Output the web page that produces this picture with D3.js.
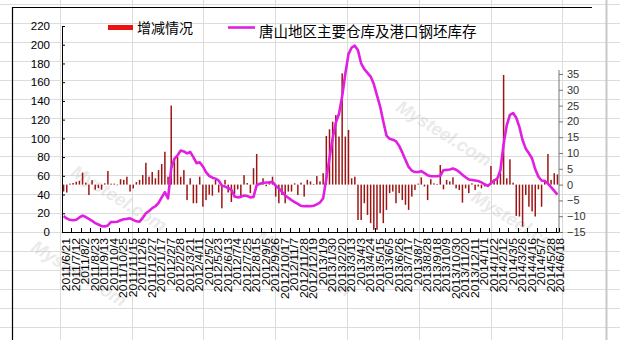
<!DOCTYPE html>
<html>
<head>
<meta charset="utf-8">
<script src="https://cdn.jsdelivr.net/npm/d3@7"></script>
<style>
  body { margin: 0; background: #fff; }
  svg { display: block; }
</style>
</head>
<body>
<div id="chart"></div>
<script>
// Tangshan billet stock (left axis) and weekly change (right axis)

const WIDTH = 620;
const HEIGHT = 340;
const PLOT = { LEFT: 62, RIGHT: 559, TOP: 26, BOTTOM: 232 };
const FONT = '"Liberation Sans", Arial, sans-serif';
const CJK = '"Noto Sans CJK SC", sans-serif';

// weekly stock, 2011/6/21 .. 2014/6/18
const stock = [
  17, 14.5, 13, 12.5, 13, 15.5, 17.5, 16, 14, 12,
  9.5, 8, 6.2, 6, 7, 10.7, 10.7, 11, 12.5, 13.6,
  14, 14.6, 13, 11.4, 11, 15, 20, 22.5, 25.5, 27.5,
  31, 37, 42.5, 36, 68, 78, 82, 87, 86, 84,
  85.5, 80, 73.5, 74.5, 70, 64, 60, 58, 57, 55,
  49.5, 48.5, 47, 45, 38, 37, 37.5, 39, 38.5, 37,
  37.5, 50, 51.5, 52.4, 52.8, 53, 53.5, 49.5, 46.5, 43,
  39, 36.5, 34, 32, 30, 28, 27.5, 27.8, 27.5, 28,
  29.5, 31.5, 36, 57, 79, 100, 117, 126, 145, 169,
  190, 197, 199, 194, 180, 174, 170, 166, 158, 146,
  134, 118, 103, 99.5, 98.5, 97, 92, 85, 77, 69.5,
  65.5, 64, 64, 65, 63, 60.5, 59.6, 59.6, 59.6, 60,
  66, 66.3, 66.7, 67.8, 66.5, 64, 61, 58.5, 56, 55.5,
  55, 54.5, 53, 51, 49.2, 52, 55, 57, 66, 94,
  114, 125, 127, 122, 112, 98, 89, 84, 78.5, 67,
  59, 55, 54.5, 51.7, 48, 44, 40
];

// weekly change (增减情况)
const change = [
  -2.2, -2.5, 0.3, 0.5, 0.9, 1.2, 3.8, 0.6, -3.3, 1.4,
  -1.6, -1.1, -1.6, 0.4, 4.3, 0.3, 0.3, -0.2, 1.7, 1.5,
  2.5, -2.2, -1.2, 0.8, 1.5, 3, 6.9, 2.5, 4, 2,
  4.6, 6.5, 10.4, 2.5, 25, 7.8, 8.8, 2.5, 4.6, -4.9,
  2, -5.9, -5.9, 2.5, -7, -4.9, -3.2, -3.5, 1.5, -2.5,
  -7.5, 1.5, -2.5, -5.5, -3, -1.5, -4, 3, 0.5, -2.7,
  5.2, 9.7, 0.3, 2, -0.5, 1, 2.5, -3.8, -5.9, -3.3,
  -5.9, -2.2, -2.2, 0.4, -3.3, 0.6, -3.8, 1.5, 1, 0.2,
  2.7, 1, 3.6, 15.4, 17.5, 19.9, 22, 15.2, 35.2, 15.2,
  17.3, 2, 2.5, -11.2, -11.2, -5.9, -9.6, -12.2, -14.3, -14.3,
  -9, -12.2, -8, -2.7, -2.2, -5.9, -2.7, -4.9, -6.4, -8,
  -3.8, -1.7, 0.3, 2.3, -0.6, -4.9, 1.7, 0.4, 0.2, 6.2,
  -1.5, 1.5, 1, 2.3, -1.2, -1.7, -5.7, -1.2, -2.7, 0.4,
  -1.7, -0.6, -1.2, -0.6, -0.6, 5.9, 1.7, 2, 3.6, 34.7,
  2, 8, 0.6, -9.9, -10.1, -13.3, -3.3, -7, -8.5, -10.1,
  -1.5, -7, 1.5, 9.7, 1.5, 3.6, 3.2
];

// one label every third week
const dateLabels = [
  '2011/6/21', '2011/7/12', '2011/8/2', '2011/8/23', '2011/9/13', '2011/10/4',
  '2011/10/25', '2011/11/15', '2011/12/6', '2011/12/27', '2012/1/17', '2012/2/7',
  '2012/2/28', '2012/3/21', '2012/4/11', '2012/5/2', '2012/5/23', '2012/6/13',
  '2012/7/4', '2012/7/25', '2012/8/15', '2012/9/5', '2012/9/26', '2012/10/17',
  '2012/11/7', '2012/11/28', '2012/12/19', '2013/1/9', '2013/1/30', '2013/2/20',
  '2013/3/13', '2013/4/3', '2013/4/24', '2013/5/15', '2013/6/5', '2013/6/26',
  '2013/7/17', '2013/8/7', '2013/8/28', '2013/9/18', '2013/10/9', '2013/10/30',
  '2013/11/20', '2013/12/11', '2014/1/1', '2014/1/22', '2014/2/12', '2014/3/5',
  '2014/3/26', '2014/4/16', '2014/5/7', '2014/5/28', '2014/6/18'
];

const leftTicks = [0, 20, 40, 60, 80, 100, 120, 140, 160, 180, 200, 220];
const rightTicks = [-15, -10, -5, 0, 5, 10, 15, 20, 25, 30, 35];
const legendNames = ['增减情况', '唐山地区主要仓库及港口钢坯库存'];

const svg = d3.select('#chart')
  .append('svg')
    .attr('width', WIDTH)
    .attr('height', HEIGHT);

// worksheet grid showing through the chart
const sheet = svg.append('g').attr('stroke', '#dcdcdc').attr('stroke-width', 1);
d3.range(-12, WIDTH, 71.8).forEach(gx => {
  sheet.append('line').attr('x1', Math.round(gx) + 0.5).attr('x2', Math.round(gx) + 0.5)
    .attr('y1', 0).attr('y2', HEIGHT);
});
d3.range(4, HEIGHT, 19).forEach(gy => {
  sheet.append('line').attr('y1', gy + 0.5).attr('y2', gy + 0.5)
    .attr('x1', 0).attr('x2', WIDTH);
});
svg.append('line')
  .attr('x1', 606.5).attr('x2', 606.5).attr('y1', 0).attr('y2', HEIGHT)
  .attr('stroke', '#c8c8c8').attr('stroke-width', 2);

// chart frame (top + left visible)
svg.append('path')
  .attr('d', `M12.5,${HEIGHT} L12.5,7.5 L592,7.5`)
  .attr('fill', 'none')
  .attr('stroke', 'black')
  .attr('stroke-width', 1.2);

// faint watermark
const marks = [[70, 175], [255, 240], [395, 110], [30, 250], [470, 200]];
marks.forEach(([mx, my]) => {
  svg.append('text')
    .attr('transform', `translate(${mx}, ${my}) rotate(32)`)
    .style('font-family', FONT)
    .style('font-size', '18px')
    .style('font-weight', '700')
    .style('font-style', 'italic')
    .style('fill', '#c4c4c4')
    .style('opacity', 0.35)
    .text('Mysteel.com');
});

// scales
const x = d3.scaleBand()
  .domain(d3.range(stock.length))
  .range([PLOT.LEFT, PLOT.RIGHT])
  .padding(0);
const step = x.step();

const yLeft = d3.scaleLinear().domain([0, 220]).range([PLOT.BOTTOM, PLOT.TOP]);
const yRight = d3.scaleLinear().domain([-15, 35]).range([PLOT.BOTTOM, 74]);

// bars
svg.append('g')
  .selectAll('rect')
  .data(change)
  .enter()
  .append('rect')
    .attr('x', (d, i) => x(i) + step / 2 - 0.75)
    .attr('width', 1.5)
    .attr('y', d => yRight(Math.max(0, d)))
    .attr('height', d => Math.abs(yRight(d) - yRight(0)))
    .attr('fill', '#9c1616');

// stock line
const line = d3.line()
  .x((d, i) => x(i) + step / 2)
  .y(d => yLeft(d))
  .curve(d3.curveLinear);

svg.append('path')
  .datum(stock)
  .attr('d', line)
  .attr('fill', 'none')
  .attr('stroke', '#e01fe0')
  .attr('stroke-width', 2.6)
  .attr('stroke-linejoin', 'round');

// left axis
const leftAxis = svg.append('g')
  .attr('transform', `translate(${PLOT.LEFT}, 0)`)
  .call(d3.axisLeft(yLeft).tickValues(leftTicks).tickSizeInner(-3).tickSizeOuter(0).tickPadding(12));
leftAxis.select('.domain').attr('stroke', 'black');
leftAxis.selectAll('.tick line').attr('stroke', 'black');
leftAxis.selectAll('text')
  .style('font-family', FONT)
  .style('font-size', '11.5px')
  .attr('fill', 'black');

// right axis
const rightAxis = svg.append('g')
  .attr('transform', `translate(${PLOT.RIGHT}, 0)`)
  .call(d3.axisRight(yRight).tickValues(rightTicks).tickSize(4).tickPadding(4)
    .tickFormat(d => d < 0 ? '\u2212' + Math.abs(d) : d));
rightAxis.select('.domain').remove();
rightAxis.append('line')
  .attr('x1', 0).attr('x2', 0).attr('y1', 70).attr('y2', PLOT.BOTTOM)
  .attr('stroke', '#777');
rightAxis.selectAll('.tick line').attr('stroke', '#777');
rightAxis.selectAll('text')
  .style('font-family', FONT)
  .style('font-size', '11px')
  .attr('fill', '#333');

// bottom axis: ticks every third week, labels rotated
const bottom = svg.append('g');
bottom.append('line')
  .attr('x1', PLOT.LEFT).attr('x2', PLOT.RIGHT)
  .attr('y1', PLOT.BOTTOM + 0.5).attr('y2', PLOT.BOTTOM + 0.5)
  .attr('stroke', 'black');

const tickIdx = d3.range(0, stock.length, 3);
bottom.selectAll('.xtick')
  .data(tickIdx.concat([stock.length]))
  .enter()
  .append('line')
    .attr('class', 'xtick')
    .attr('x1', i => Math.round(i < stock.length ? x(i) : PLOT.RIGHT) + 0.5)
    .attr('x2', i => Math.round(i < stock.length ? x(i) : PLOT.RIGHT) + 0.5)
    .attr('y1', PLOT.BOTTOM - 4)
    .attr('y2', PLOT.BOTTOM)
    .attr('stroke', 'black');

bottom.selectAll('.xlabel')
  .data(dateLabels)
  .enter()
  .append('text')
    .attr('class', 'xlabel')
    .attr('transform', (d, k) => `translate(${x(k * 3) + step * 1.5}, ${PLOT.BOTTOM + 6}) rotate(-90) scale(1.22, 1)`)
    .attr('dy', '0.35em')
    .attr('text-anchor', 'end')
    .style('font-family', FONT)
    .style('font-size', '10px')
    .attr('fill', 'black')
    .text(d => d);

// legend
const legend = svg.append('g');
legend.append('rect')
  .attr('x', 108).attr('y', 25).attr('width', 25).attr('height', 5)
  .attr('fill', '#ee1111');
legend.append('text')
  .attr('x', 137).attr('y', 28).attr('dy', '0.35em')
  .style('font-family', CJK).style('font-size', '14px')
  .attr('fill', 'black')
  .text(legendNames[0]);
legend.append('line')
  .attr('x1', 228).attr('x2', 255).attr('y1', 27.5).attr('y2', 27.5)
  .attr('stroke', '#e01fe0').attr('stroke-width', 2.6);
legend.append('text')
  .attr('x', 259).attr('y', 32).attr('dy', '0.35em')
  .style('font-family', CJK).style('font-size', '14.5px')
  .attr('fill', 'black')
  .text(legendNames[1]);
</script>
</body>
</html>
